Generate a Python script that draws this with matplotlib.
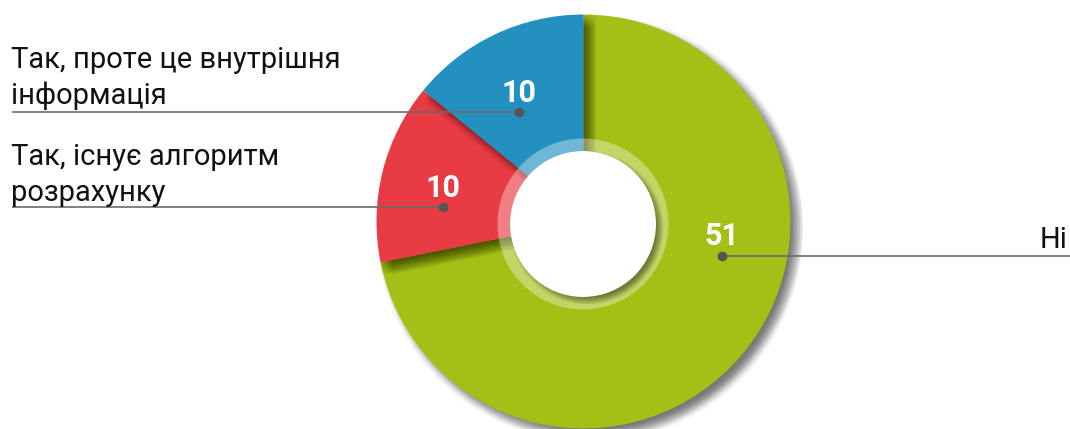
"""Donut chart: answers to the question about the calculation algorithm."""

import matplotlib
matplotlib.use("Agg")
import matplotlib.pyplot as plt
import numpy as np
from matplotlib.patches import Circle, Wedge

plt.rcParams["font.family"] = ["Roboto", "DejaVu Sans"]

# Data (clockwise from 12 o'clock)
categories = ["Ні", "Так, існує алгоритм\nрозрахунку", "Так, проте це внутрішня\nінформація"]
values = [51, 10, 10]
colors = ["#a4bf15", "#e83b43", "#2490c0"]

# Layout in pixel units (y measured from the top of the image)
W, H = 1070, 429
CX, CY = 583.5, 221.5
R_OUT = 207
HX, HY = 583, 224
R_RING, R_HOLE = 85.5, 73

# label anchors: (number x, number baseline y, dot y, side, text baselines, line end x)
label_pos = [
    dict(x=722, num_y=245, dot_y=256, side="right", text_y=[248], end_x=W),
    dict(x=443, num_y=197, dot_y=207, side="left", text_y=[165, 201], end_x=12),
    dict(x=519, num_y=102, dot_y=112, side="left", text_y=[68, 104], end_x=12),
]


def py(y):
    return H - y


fig = plt.figure(figsize=(W / 100, H / 100), dpi=100)
ax = fig.add_axes([0, 0, 1, 1])

# ── soft drop shadows (one per slice, layered under the next slice) ──────
offsets = np.linspace(1, 12, 5)
for dx in offsets:
    for dy in offsets:
        sh, _ = ax.pie(values, colors=["black"] * len(values), center=(CX + dx, py(CY) - dy),
                       radius=R_OUT, startangle=90, counterclock=False,
                       wedgeprops=dict(alpha=0.028, linewidth=0))
        for i, w in enumerate(sh):
            w.set_zorder(2 * i + 1)

wedges, _ = ax.pie(values, colors=colors, center=(CX, py(CY)), radius=R_OUT,
                   startangle=90, counterclock=False, wedgeprops=dict(linewidth=0))
for i, w in enumerate(wedges):
    w.set_zorder(2 * i + 2)

# translucent ring + white hole with its own soft shadow
ax.add_patch(Wedge((HX, py(HY)), R_RING, 0, 360, width=R_RING - R_HOLE,
                   facecolor="white", alpha=0.35, linewidth=0, zorder=10))
for dx in np.linspace(1, 7, 4):
    for dy in np.linspace(1, 7, 4):
        ax.add_patch(Circle((HX + dx, py(HY) - dy), R_HOLE, facecolor="black",
                            alpha=0.03, linewidth=0, zorder=11))
ax.add_patch(Circle((HX, py(HY)), R_HOLE, facecolor="white", linewidth=0, zorder=12))

# ── labels ────────────────────────────────────────────────────────────────
for cat, val, pos in zip(categories, values, label_pos):
    ax.text(pos["x"], py(pos["num_y"]), str(val), ha="center", va="baseline",
            fontsize=22, fontweight="bold", color="white", zorder=20)
    ax.plot([pos["x"], pos["end_x"]], [py(pos["dot_y"])] * 2, color="#6b6b6b",
            lw=1.2, zorder=19, solid_capstyle="butt")
    ax.plot(pos["x"], py(pos["dot_y"]), "o", color="#555555", ms=6, zorder=21)
    lines = cat.split("\n")
    for line, ty in zip(lines, pos["text_y"]):
        if pos["side"] == "left":
            ax.text(11, py(ty), line, ha="left", va="baseline", fontsize=21,
                    color="#111111", zorder=20)
        else:
            ax.text(W - 2, py(ty), line, ha="right", va="baseline", fontsize=21,
                    color="#111111", zorder=20)

ax.set_xlim(0, W)
ax.set_ylim(0, H)
ax.set_aspect("equal")
ax.axis("off")

fig.savefig("out.png", dpi=100, facecolor="white")
